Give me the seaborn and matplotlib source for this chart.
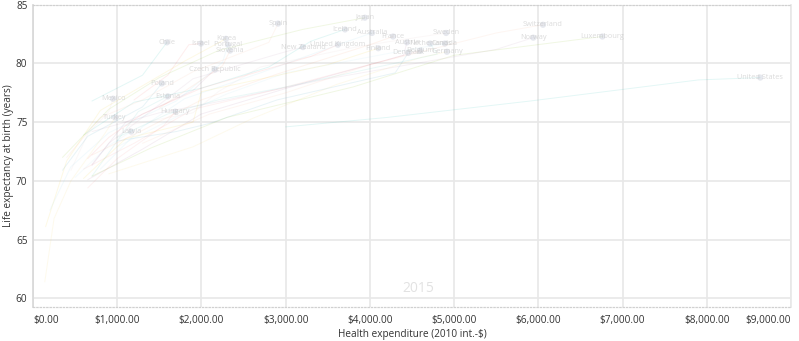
import numpy as np
import pandas as pd
import matplotlib
matplotlib.use("Agg")
import matplotlib.pyplot as plt
import seaborn as sns

nan = np.nan
countries = ["Chile", "Israel", "Korea", "Portugal", "Slovenia", "Czech Republic", "Poland",
             "Mexico", "Estonia", "Hungary", "Turkey", "Latvia", "Spain", "New Zealand", "Japan",
             "Iceland", "United Kingdom", "Finland", "Australia", "France", "Austria", "Denmark",
             "Sweden", "Netherlands", "Belgium", "Germany", "Canada", "Switzerland", "Norway",
             "Luxembourg", "United States"]
years = [1970, 1980, 1990, 2000, 2010, 2015]

exp_1970 = [nan, nan, nan, 200, nan, nan, nan, nan, nan, nan, nan, nan, 400, 700, 350, 600, 650, 600, 800, 700, 650, 1000, 1100, 1000, 600, 900, 1000, 1300, 700, 700, nan]
le_1970 = [nan, nan, nan, 67.5, nan, nan, nan, nan, nan, nan, nan, nan, 72.0, 71.3, 72.0, 73.9, 71.9, 70.2, 71.0, 72.2, 70.1, 73.4, 74.7, 73.7, 71.0, 70.6, 72.9, 73.2, 74.2, 70.4, nan]
exp_1980 = [nan, nan, 150, 450, nan, nan, nan, nan, nan, nan, 140, nan, 800, 900, 900, 1200, 900, 1100, 1300, 1300, 1300, 1700, 1900, 1600, 1200, 1900, 1600, 2100, 1500, 1400, 3000]
le_1980 = [nan, nan, 66.1, 71.2, nan, nan, nan, nan, nan, nan, 61.4, nan, 75.4, 73.2, 76.1, 76.7, 73.7, 73.6, 74.6, 74.3, 72.7, 74.2, 75.8, 75.7, 73.2, 72.9, 75.1, 75.7, 75.8, 72.8, 74.6]
exp_1990 = [nan, 1200, 400, 900, nan, 700, 350, 450, nan, 650, 250, nan, 1300, 1300, 1500, 2000, 1300, 1900, 1800, 2000, 2000, 2100, 2200, 2200, 1900, 2600, 2300, 3000, 2100, 2300, 4200]
le_1990 = [nan, 76.9, 71.7, 74.1, nan, 71.4, 70.9, 70.9, nan, 69.4, 66.8, nan, 76.9, 75.4, 78.8, 77.9, 75.7, 75.0, 77.0, 76.9, 75.7, 74.9, 77.6, 76.9, 76.1, 75.3, 77.4, 77.5, 76.6, 75.4, 75.4]
exp_2000 = [700, 1600, 800, 1700, 1500, 1100, 650, 650, 700, 1000, 450, 500, 1900, 1900, 2200, 2800, 2000, 2000, 2700, 2900, 3200, 2900, 2700, 3000, 2900, 3600, 3000, 4000, 3500, 3800, 5900]
le_2000 = [76.8, 79.0, 76.0, 76.8, 76.2, 75.0, 73.8, 74.0, 70.4, 71.9, 70.0, 70.3, 79.3, 78.7, 81.1, 79.7, 77.9, 77.6, 79.2, 79.1, 78.3, 76.9, 79.7, 78.0, 77.8, 78.2, 79.2, 79.9, 78.7, 78.0, 76.8]
exp_2010 = [1300, 1850, 1800, 2250, 2250, 1900, 1300, 900, 1250, 1550, 850, 900, 2800, 2950, 3200, 3300, 3300, 3500, 3700, 4000, 4400, 4300, 3900, 4800, 4200, 4600, 4400, 5500, 5500, 5000, 7900]
le_2010 = [79.0, 81.6, 80.2, 80.1, 79.8, 77.7, 76.3, 75.9, 75.9, 74.7, 74.0, 73.0, 81.8, 80.9, 82.9, 81.9, 80.6, 79.9, 81.8, 81.6, 80.7, 79.2, 81.5, 80.8, 80.3, 80.5, 81.1, 82.6, 81.2, 80.7, 78.6]
exp_2015 = [1590, 1995, 2290, 2315, 2340, 2160, 1530, 950, 1600, 1690, 975, 1165, 2910, 3205, 3940, 3705, 3620, 4100, 4025, 4275, 4440, 4455, 4905, 4715, 4600, 4915, 4890, 6055, 5940, 6760, 8635]
le_2015 = [81.8, 81.7, 82.1, 81.6, 81.1, 79.5, 78.3, 77.0, 77.2, 75.9, 75.4, 74.2, 83.4, 81.4, 83.9, 82.9, 81.6, 81.3, 82.6, 82.3, 81.8, 80.9, 82.6, 81.7, 81.1, 81.0, 81.7, 83.3, 82.2, 82.3, 78.8]

x_ticks = [0, 1000, 2000, 3000, 4000, 5000, 6000, 7000, 8000, 9000]
x_tick_labels = ["$0.00", "$1,000.00", "$2,000.00", "$3,000.00", "$4,000.00", "$5,000.00",
                 "$6,000.00", "$7,000.00", "$8,000.00", "$9,000.00"]
y_ticks = [60, 65, 70, 75, 80, 85]

exp_cols = [exp_1970, exp_1980, exp_1990, exp_2000, exp_2010, exp_2015]
le_cols = [le_1970, le_1980, le_1990, le_2000, le_2010, le_2015]
rows = []
for yi, yr in enumerate(years):
    for ci, c in enumerate(countries):
        rows.append({"country": c, "year": yr, "exp": exp_cols[yi][ci], "le": le_cols[yi][ci]})
df = pd.DataFrame(rows).dropna().sort_values(["country", "year"])
end = pd.DataFrame({"country": countries, "exp": exp_2015, "le": le_2015})

sns.set_theme(style="white")
plt.rcParams["font.family"] = ["Open Sans", "DejaVu Sans"]

fig = plt.figure(figsize=(7.99, 3.41), dpi=100)
ax = fig.add_axes([33 / 799, (341 - 306.7) / 341, (791 - 33) / 799, (306.7 - 4.8) / 341])

base = ["#01B8AA", "#FD625E", "#F2C80F", "#8AD4EB", "#FE9666", "#A66999", "#3599B8",
        "#DFBFBF", "#4AC5BB", "#FB8281", "#F4D25A", "#A4DDEE", "#FDAB89", "#B687AC", "#7FBA00"]
pal = {c: base[i % len(base)] for i, c in enumerate(countries)}

sns.lineplot(data=df, x="exp", y="le", hue="country", units="country", estimator=None,
             sort=False, palette=pal, alpha=0.11, lw=0.7, legend=False, ax=ax)
sns.scatterplot(data=end, x="exp", y="le", color="#b8bfd0", s=20, alpha=0.35,
                edgecolor="none", legend=False, ax=ax, zorder=3)
for c, x, y in zip(countries, exp_2015, le_2015):
    ax.text(x, y, c, fontsize=5.3, color="#c4c4c4", alpha=0.6, ha="center", va="center", zorder=4)

ax.set_xlim(0, 9000)
ax.set_ylim(59.28, 85.0)
ax.set_xticks(x_ticks)
ax.set_xticklabels(x_tick_labels)
ax.set_yticks(y_ticks)
tl = ax.get_xticklabels()
tl[0].set_ha("left")
tl[-1].set_ha("right")
ax.grid(True, color="#e8e8e8", lw=1.2)
ax.tick_params(axis="x", length=3, color="#cccccc", labelsize=7.2, labelcolor="#333333", pad=3)
ax.tick_params(axis="y", length=0, labelsize=7.2, labelcolor="#333333", pad=4)
for s in ["top", "bottom"]:
    ax.spines[s].set_color("#d0d0d0")
    ax.spines[s].set_linestyle(":")
    ax.spines[s].set_linewidth(0.9)
ax.spines["left"].set_color("#d8d8d8")
ax.spines["right"].set_color("#e8e8e8")
ax.set_xlabel("Health expenditure (2010 int.-$)", fontsize=7.2, color="#333333", labelpad=2)
ax.set_ylabel("Life expectancy at birth (years)", fontsize=7.2, color="#333333", labelpad=1)
ax.text(0.508, 0.06, "2015", transform=ax.transAxes, fontsize=10, color="#e2e2e2",
        ha="center", va="center")

fig.savefig("out.png", dpi=100)
